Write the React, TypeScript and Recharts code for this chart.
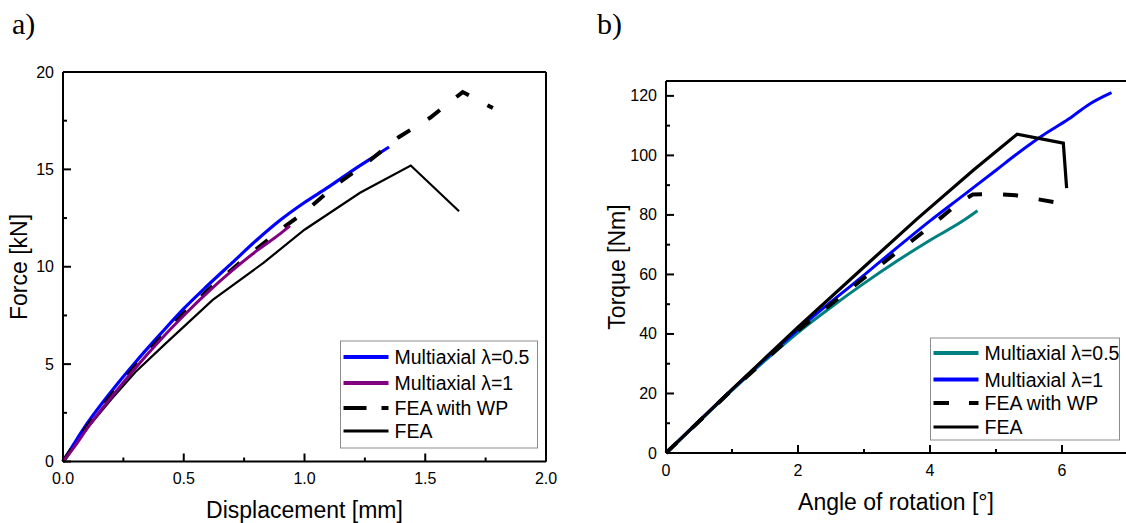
import { LineChart, Line, XAxis, YAxis, ReferenceLine } from 'recharts'

// a) force vs displacement
const dispMulti05 = [0, 0.05, 0.1, 0.2, 0.3, 0.4, 0.5, 0.6, 0.7, 0.8, 0.9, 1.0, 1.1, 1.2, 1.3, 1.35]
const forceMulti05 = [0, 1.0, 1.95, 3.6, 5.1, 6.5, 7.85, 9.05, 10.2, 11.35, 12.4, 13.3, 14.1, 14.95, 15.75, 16.15]
const dispMulti1 = [0, 0.05, 0.1, 0.2, 0.3, 0.4, 0.5, 0.6, 0.7, 0.8, 0.9, 0.94]
const forceMulti1 = [0, 0.8, 1.7, 3.3, 4.8, 6.2, 7.5, 8.7, 9.8, 10.8, 11.7, 12.1]
const dispWP = [0, 0.1, 0.2, 0.3, 0.4, 0.5, 0.6, 0.75, 0.9, 1.0, 1.13, 1.26, 1.39, 1.52, 1.655, 1.78]
const forceWP = [0, 1.8, 3.4, 4.9, 6.3, 7.6, 8.8, 10.4, 11.9, 12.8, 14.2, 15.35, 16.65, 17.65, 18.97, 18.15]
const dispFEA = [0, 0.1, 0.2, 0.3, 0.42, 0.62, 0.83, 1.0, 1.23, 1.44, 1.64]
const forceFEA = [0, 1.7, 3.2, 4.6, 6.0, 8.3, 10.2, 11.9, 13.8, 15.2, 12.85]

// b) torque vs angle
const angMulti05 = [0, 0.5, 1, 1.5, 2, 2.5, 3, 3.5, 4, 4.5, 4.72]
const torqMulti05 = [0, 10.5, 21, 31, 40.5, 49, 57, 64.5, 71.5, 78, 81.4]
const angMulti1 = [0, 1, 2, 3, 3.5, 4, 4.5, 5, 5.3, 5.7, 6.1, 6.42, 6.75]
const torqMulti1 = [0, 21.3, 41.5, 59.8, 69, 78, 86.5, 95, 100.2, 106.6, 112.2, 117.3, 121.1]
const angWP = [0, 1, 2, 3, 3.5, 4, 4.4, 4.65, 5.0, 5.3, 6.03]
const torqWP = [0, 21.2, 41.2, 58.8, 67.5, 76, 83.4, 86.9, 87.0, 86.6, 83.7]
const angFEA = [0, 1, 2, 3, 3.8, 4.66, 5.32, 6.02, 6.07]
const torqFEA = [0, 21.4, 42.3, 62.5, 78.6, 95.1, 107.1, 104.1, 89]

const ticksDisp = [0, 0.25, 0.5, 0.75, 1, 1.25, 1.5, 1.75, 2]
const ticksForce = [0, 2.5, 5, 7.5, 10, 12.5, 15, 17.5, 20]
const ticksAngle = [0, 1, 2, 3, 4, 5, 6, 7]
const ticksTorque = [0, 10, 20, 30, 40, 50, 60, 70, 80, 90, 100, 110, 120]

const legendA = ['Multiaxial λ=0.5', 'Multiaxial λ=1', 'FEA with WP', 'FEA']
const legendB = ['Multiaxial λ=0.5', 'Multiaxial λ=1', 'FEA with WP', 'FEA']

const zip = (xs: number[], ys: number[]) => xs.map((x, i) => ({ x, y: ys[i] }))

const FONT = "'Liberation Sans', Arial, sans-serif"
const DASH = '15 21'

function InTick({ x = 0, y = 0, payload, side, step, digits }: any) {
  const v = payload.value as number
  const major = Math.abs(v / step - Math.round(v / step)) < 1e-6
  const len = major ? 8 : 4
  const label = v.toFixed(digits)
  if (side === 'bottom') {
    return (
      <g>
        <line x1={x} y1={y} x2={x} y2={y - len} stroke="#000" strokeWidth={2} />
        {major && (
          <text x={x} y={y + 17} textAnchor="middle" dominantBaseline="central" fontSize={16} fontFamily={FONT} fill="#000">
            {label}
          </text>
        )}
      </g>
    )
  }
  return (
    <g>
      <line x1={x} y1={y} x2={x + len} y2={y} stroke="#000" strokeWidth={2} />
      {major && (
        <text x={x - 9} y={y} textAnchor="end" dominantBaseline="central" fontSize={16} fontFamily={FONT} fill="#000">
          {label}
        </text>
      )}
    </g>
  )
}

const axisLine = { stroke: '#000', strokeWidth: 2 }

function Legend({ x, y, w, h, rows, items, colors, dash }: any) {
  return (
    <g>
      <rect x={x} y={y} width={w} height={h} fill="#fff" stroke="#8c8c8c" strokeWidth={1} />
      {items.map((t: string, i: number) => (
        <g key={t}>
          <line
            x1={x + 3}
            x2={x + 48}
            y1={rows[i]}
            y2={rows[i]}
            stroke={colors[i]}
            strokeWidth={i === 3 ? 3 : 4}
            strokeDasharray={dash[i] || undefined}
          />
          <text x={x + 54} y={rows[i]} dominantBaseline="central" fontSize={19.5} fontFamily={FONT} fill="#000">
            {t}
          </text>
        </g>
      ))}
    </g>
  )
}

export default function App() {
  return (
    <div style={{ position: 'fixed', left: 0, top: 0, width: 1126, height: 523, overflow: 'hidden', background: '#fff' }}>
      <div style={{ position: 'absolute', left: 0, top: 0 }}>
        <LineChart width={560} height={523} margin={{ top: 72, left: 62, right: 14, bottom: 60.5 }}>
          <XAxis
            type="number"
            dataKey="x"
            domain={[0, 2]}
            ticks={ticksDisp}
            interval={0}
            height={1}
            tickSize={0}
            tickMargin={0}
            tickLine={false}
            axisLine={axisLine}
            tick={(p: any) => <InTick {...p} side="bottom" step={0.5} digits={1} />}
          />
          <YAxis
            type="number"
            domain={[0, 20]}
            ticks={ticksForce}
            interval={0}
            width={1}
            tickSize={0}
            tickMargin={0}
            tickLine={false}
            axisLine={axisLine}
            tick={(p: any) => <InTick {...p} side="left" step={5} digits={0} />}
          />
          <ReferenceLine y={20} stroke="#000" strokeWidth={2} />
          <ReferenceLine x={2} stroke="#000" strokeWidth={2} />
          <Line data={zip(dispFEA, forceFEA)} dataKey="y" type="linear" stroke="#000" strokeWidth={2.2} dot={false} isAnimationActive={false} />
          <Line data={zip(dispMulti05, forceMulti05)} dataKey="y" type="monotone" stroke="#0000ff" strokeWidth={3.2} dot={false} isAnimationActive={false} />
          <Line data={zip(dispWP, forceWP)} dataKey="y" type="linear" stroke="#000" strokeWidth={4} strokeDasharray={DASH} dot={false} isAnimationActive={false} />
          <Line data={zip(dispMulti1, forceMulti1)} dataKey="y" type="monotone" stroke="#800080" strokeWidth={3} dot={false} isAnimationActive={false} />
        </LineChart>
      </div>
      <div style={{ position: 'absolute', left: 560, top: 0 }}>
        <LineChart width={580} height={523} margin={{ top: 81, left: 105, right: 12, bottom: 69 }}>
          <XAxis
            type="number"
            dataKey="x"
            domain={[0, 7]}
            ticks={ticksAngle}
            interval={0}
            height={1}
            tickSize={0}
            tickMargin={0}
            tickLine={false}
            axisLine={axisLine}
            tick={(p: any) => <InTick {...p} side="bottom" step={2} digits={0} />}
          />
          <YAxis
            type="number"
            domain={[0, 125]}
            ticks={ticksTorque}
            interval={0}
            width={1}
            tickSize={0}
            tickMargin={0}
            tickLine={false}
            axisLine={axisLine}
            tick={(p: any) => <InTick {...p} side="left" step={20} digits={0} />}
          />
          <ReferenceLine y={125} stroke="#000" strokeWidth={2} />
          <ReferenceLine x={7} stroke="#000" strokeWidth={2} />
          <Line data={zip(angMulti05, torqMulti05)} dataKey="y" type="monotone" stroke="#008080" strokeWidth={3} dot={false} isAnimationActive={false} />
          <Line data={zip(angMulti1, torqMulti1)} dataKey="y" type="monotone" stroke="#0000ff" strokeWidth={3} dot={false} isAnimationActive={false} />
          <Line data={zip(angWP, torqWP)} dataKey="y" type="linear" stroke="#000" strokeWidth={4} strokeDasharray={DASH} dot={false} isAnimationActive={false} />
          <Line data={zip(angFEA, torqFEA)} dataKey="y" type="linear" stroke="#000" strokeWidth={3.2} dot={false} isAnimationActive={false} />
        </LineChart>
      </div>
      <svg width={1126} height={523} style={{ position: 'absolute', left: 0, top: 0, pointerEvents: 'none' }}>
        <text x={12} y={34} fontSize={30} fontFamily="'Liberation Serif', 'Times New Roman', serif" fill="#000">a)</text>
        <text x={597} y={34} fontSize={30} fontFamily="'Liberation Serif', 'Times New Roman', serif" fill="#000">b)</text>
        <text x={304.5} y={510} textAnchor="middle" dominantBaseline="central" fontSize={23} fontFamily={FONT} fill="#000">
          Displacement [mm]
        </text>
        <text x={19} y={267} textAnchor="middle" dominantBaseline="central" fontSize={23} fontFamily={FONT} fill="#000" transform="rotate(-90 19 267)">
          Force [kN]
        </text>
        <text x={896} y={502} textAnchor="middle" dominantBaseline="central" fontSize={23} fontFamily={FONT} fill="#000">
          Angle of rotation [°]
        </text>
        <text x={617} y={267} textAnchor="middle" dominantBaseline="central" fontSize={23} fontFamily={FONT} fill="#000" transform="rotate(-90 617 267)">
          Torque [Nm]
        </text>
        <Legend
          x={340.5}
          y={341}
          w={197}
          h={107}
          rows={[357, 383, 408, 431]}
          items={legendA}
          colors={['#0000ff', '#800080', '#000', '#000']}
          dash={[null, null, '23 15', null]}
        />
        <Legend
          x={930.5}
          y={338}
          w={189}
          h={102}
          rows={[353, 379.5, 403, 427]}
          items={legendB}
          colors={['#008080', '#0000ff', '#000', '#000']}
          dash={[null, null, '15.5 20', null]}
        />
      </svg>
    </div>
  )
}
